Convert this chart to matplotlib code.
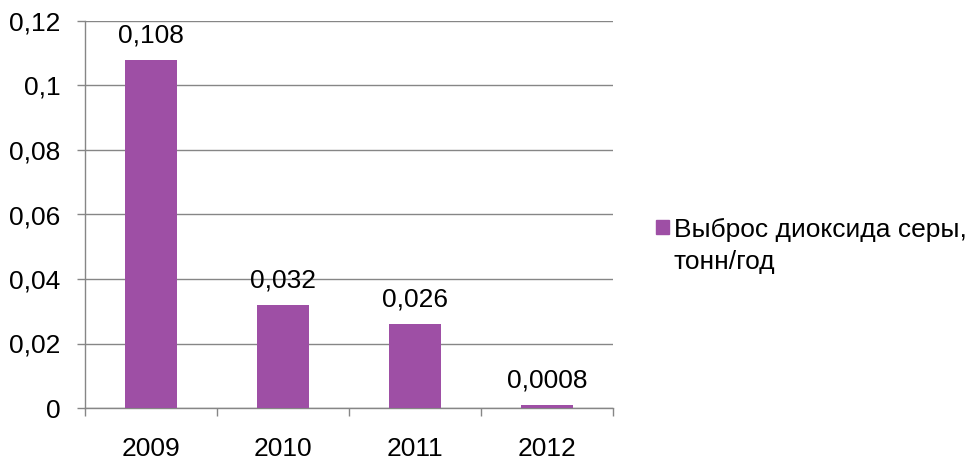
import matplotlib
matplotlib.use("Agg")
import matplotlib.pyplot as plt
from matplotlib.patches import Rectangle

years = ["2009", "2010", "2011", "2012"]
emissions = [0.108, 0.032, 0.026, 0.0008]
value_labels = ["0,108", "0,032", "0,026", "0,0008"]
y_ticks = [0, 0.02, 0.04, 0.06, 0.08, 0.1, 0.12]
y_tick_labels = ["0", "0,02", "0,04", "0,06", "0,08", "0,1", "0,12"]
series_name = "Выброс диоксида серы,\nтонн/год"

BAR_COLOR = "#9E4FA5"
GRID_COLOR = "#868686"
FONT = ["Liberation Sans", "DejaVu Sans"]
FS = 19

plt.rcParams["font.family"] = FONT

W, H = 970, 461
fig = plt.figure(figsize=(W / 100, H / 100), dpi=100)
ax = fig.add_axes([85 / W, 53 / H, 528 / W, 387 / H])

x = list(range(len(years)))
bars = ax.bar(x, emissions, width=0.4, color=BAR_COLOR, zorder=3)

for xi, val, lab in zip(x, emissions, value_labels):
    ax.annotate(lab, (xi, val), xytext=(0, 9), textcoords="offset points",
                ha="center", va="bottom", fontsize=FS)

ax.set_xlim(-0.5, len(years) - 0.5)
ax.set_ylim(0, 0.12)
ax.set_yticks(y_ticks)
ax.set_yticklabels(y_tick_labels, fontsize=FS)
ax.set_xticks(x)
ax.set_xticklabels(years, fontsize=FS)
# category boundary ticks on the x axis
ax.set_xticks([i - 0.5 for i in range(len(years) + 1)], minor=True)
ax.tick_params(axis="x", which="major", length=0, pad=21)
ax.tick_params(axis="x", which="minor", length=5.5, color=GRID_COLOR, width=1)
ax.tick_params(axis="y", length=5.5, color=GRID_COLOR, width=1, pad=12)

ax.grid(axis="y", color=GRID_COLOR, linewidth=1, zorder=0)
for side in ["top", "right"]:
    ax.spines[side].set_visible(False)
for side in ["left", "bottom"]:
    ax.spines[side].set_color(GRID_COLOR)
    ax.spines[side].set_linewidth(1)

# legend: square key next to the first line of the two-line label
fig.patches.append(Rectangle((656 / W, 1 - 234 / H), 13 / W, 14 / H,
                             transform=fig.transFigure, color=BAR_COLOR))
fig.text(674 / W, 1 - 218 / H, series_name, ha="left", va="top",
         fontsize=FS, linespacing=1.4)

fig.savefig("out.png", dpi=100)
